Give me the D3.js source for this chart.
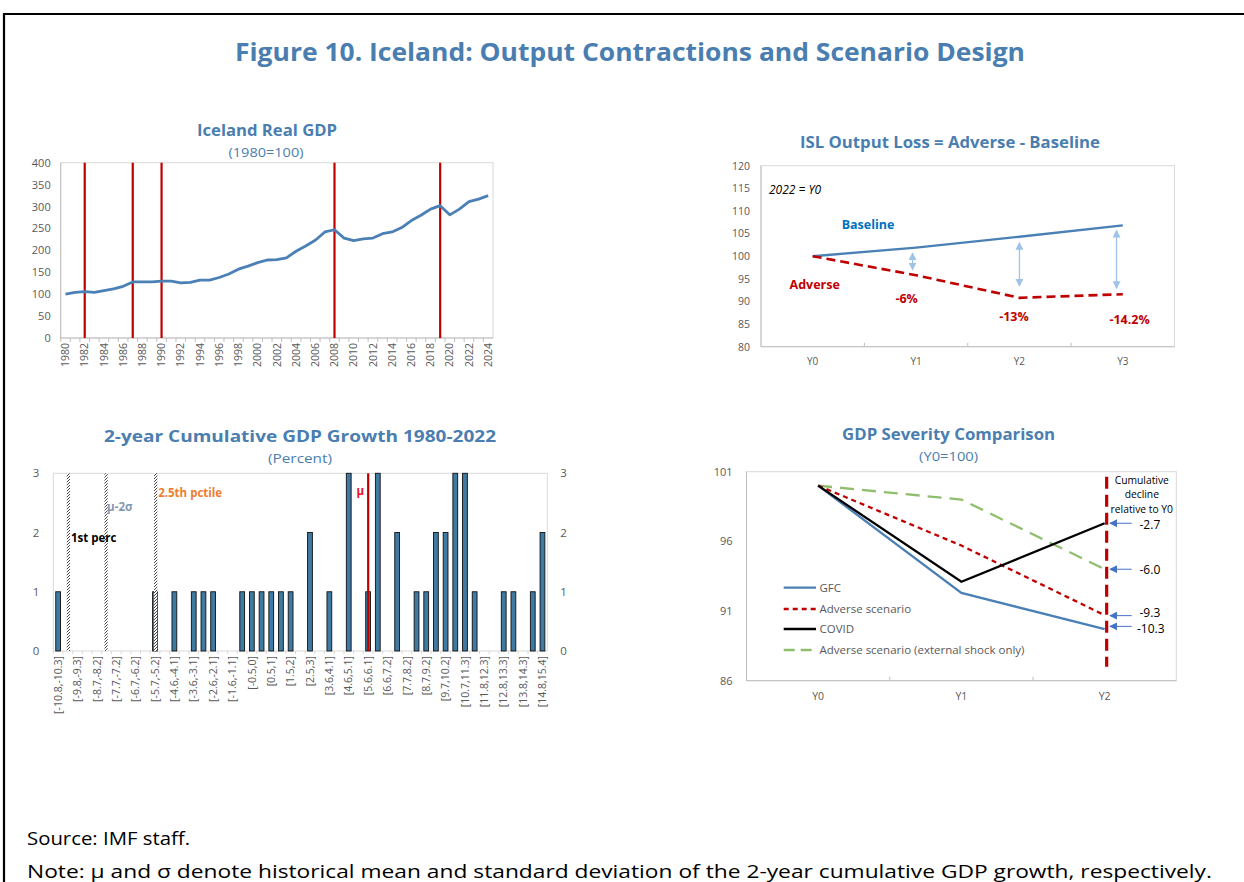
<!DOCTYPE html>
<html><head><meta charset="utf-8">
<script src="https://cdn.jsdelivr.net/npm/d3@7"></script>
<style>
body{margin:0;background:#fff;}
svg text{font-family:"Open Sans","Noto Sans",sans-serif;}
</style>
</head><body>
<svg id="c" width="1244" height="882"></svg>
<script>
// ---------------- DATA ----------------
const gdpYears = [1980,1981,1982,1983,1984,1985,1986,1987,1988,1989,1990,1991,1992,1993,1994,1995,1996,1997,1998,1999,
  2000,2001,2002,2003,2004,2005,2006,2007,2008,2009,2010,2011,2012,2013,2014,2015,2016,2017,2018,2019,2020,2021,2022,2023,2024];
const gdpIndex = [100,104,106,104,108,112,118,128,128,128,130,130,126,127,132,132,138,146,157,164,
  172,178,179,183,198,210,223,242,247,228,222,226,228,238,242,252,268,280,294,302,281,294,311,317,325];
const contractionYears = [1982,1987,1990,2008,2019];
const gdpTicks = [0,50,100,150,200,250,300,350,400];

const lossCats = ["Y0","Y1","Y2","Y3"];
const baseline = [100,101.9,104.3,106.8];
const adverse = [100,95.8,90.8,91.6];
const lossLabels = ["-6%","-13%","-14.2%"];
const gapCats = ["Y1","Y2","Y3"];
const gapTop = [100.7,103.0,105.7];
const gapBottom = [97.0,93.4,92.9];
const lossTicks = [80,85,90,95,100,105,110,115,120];

const histBins = ["[-10.8,-10.3]","[-10.3,-9.8]","[-9.8,-9.3]","[-9.3,-8.7]","[-8.7,-8.2]","[-8.2,-7.7]","[-7.7,-7.2]","[-7.2,-6.7]",
  "[-6.7,-6.2]","[-6.2,-5.7]","[-5.7,-5.2]","[-5.2,-4.6]","[-4.6,-4.1]","[-4.1,-3.6]","[-3.6,-3.1]","[-3.1,-2.6]",
  "[-2.6,-2.1]","[-2.1,-1.6]","[-1.6,-1.1]","[-1.1,-0.5]","[-0.5,0]","[0,0.5]","[0.5,1]","[1,1.5]","[1.5,2]","[2,2.5]",
  "[2.5,3]","[3,3.6]","[3.6,4.1]","[4.1,4.6]","[4.6,5.1]","[5.1,5.6]","[5.6,6.1]","[6.1,6.6]","[6.6,7.2]","[7.2,7.7]",
  "[7.7,8.2]","[8.2,8.7]","[8.7,9.2]","[9.2,9.7]","[9.7,10.2]","[10.2,10.7]","[10.7,11.3]","[11.3,11.8]","[11.8,12.3]",
  "[12.3,12.8]","[12.8,13.3]","[13.3,13.8]","[13.8,14.3]","[14.3,14.8]","[14.8,15.4]"];
const histCounts = [1,0,0,0,0,0,0,0,0,0,1,0,1,0,1,1,1,0,0,1,1,1,1,1,1,0,2,0,1,0,3,0,1,3,0,2,0,1,1,2,2,3,3,1,0,0,1,1,0,1,2];
const histRange = [-10.8,15.4];
const histTicks = [0,1,2,3];
const refNames = ["1st perc","μ-2σ","2.5th pctile","μ"];
const refValues = [-10.0,-8.0,-5.37,5.9];

const sevCats = ["Y0","Y1","Y2"];
const gfc = [100,92.3,89.7];
const advScen = [100,95.7,90.7];
const covid = [100,93.1,97.3];
const extShock = [100,99.0,94.0];
const sevNames = ["GFC","Adverse scenario","COVID","Adverse scenario (external shock only)"];
const declines = ["-2.7","-6.0","-9.3","-10.3"];
const declineLevels = [97.3,94.0,90.67,89.9];
const sevTicks = [86,91,96,101];

// ---------------- DRAWING ----------------
const svg = d3.select("#c");
const FONT = '"Open Sans","Noto Sans",sans-serif';
const TBLUE = "#4a7eb0";
const GRID = "#bfbfbf";
const TICKC = "#595959";
svg.append("rect").attr("width",1244).attr("height",882).attr("fill","#fff");
svg.append("path").attr("d","M4,882 V14 H1244").attr("fill","none").attr("stroke","#000").attr("stroke-width",2.2);

const defs = svg.append("defs");
const pat = defs.append("pattern").attr("id","hatch").attr("patternUnits","userSpaceOnUse")
  .attr("width",3).attr("height",3);
pat.append("rect").attr("width",3).attr("height",3).attr("fill","#fff");
pat.append("path").attr("d","M0,3 L3,0").attr("stroke","#333").attr("stroke-width",0.9);
function marker(id,color,size){
  defs.append("marker").attr("id",id).attr("viewBox","0 0 10 10").attr("refX",9).attr("refY",5)
    .attr("markerWidth",size).attr("markerHeight",size).attr("markerUnits","userSpaceOnUse")
    .attr("orient","auto-start-reverse")
    .append("path").attr("d","M0,0 L10,5 L0,10 z").attr("fill",color);
}
marker("arrLight","#9dc3e6",8);
marker("arrBlue","#4472c4",8);

function txt(x,y,s,o={}){
  const t = svg.append("text").attr("x",x).attr("y",y).attr("dy",".35em")
    .attr("text-anchor",o.anchor||"middle").attr("font-size",o.size||12)
    .attr("font-weight",o.weight||"normal").attr("fill",o.color||"#000")
    .attr("font-family",FONT).text(s);
  if(o.style) t.attr("font-style",o.style);
  if(o.len) t.attr("textLength",o.len).attr("lengthAdjust","spacingAndGlyphs");
  return t;
}
function styleAxis(g,size){
  g.attr("font-family",FONT).attr("font-size",size);
  g.selectAll("text").attr("fill",TICKC);
  g.select(".domain").remove();
  g.selectAll(".tick line").remove();
}

// Main title
txt(630,52,"Figure 10. Iceland: Output Contractions and Scenario Design",{size:25,weight:"bold",color:TBLUE,len:790});

// ======= Chart 1: Iceland Real GDP =======
{
  const p={l:60.7,r:493,t:162.7,b:338};
  txt(267,130,"Iceland Real GDP",{size:16,weight:"bold",color:TBLUE,len:140});
  txt(266,152,"(1980=100)",{size:13.5,color:TBLUE,len:75});
  const x=d3.scaleBand().domain(gdpYears).range([p.l,p.r]);
  const y=d3.scaleLinear().domain([0,400]).range([p.b,p.t]);
  const bw=x.bandwidth();
  svg.append("rect").attr("x",p.l).attr("y",p.t).attr("width",p.r-p.l).attr("height",p.b-p.t)
    .attr("fill","none").attr("stroke","#d9d9d9").attr("stroke-width",1);
  svg.append("line").attr("x1",p.l).attr("x2",p.l).attr("y1",p.t).attr("y2",p.b).attr("stroke",GRID);
  svg.append("line").attr("x1",p.l).attr("x2",p.r).attr("y1",p.b).attr("y2",p.b).attr("stroke",GRID);
  const ya=svg.append("g").attr("transform",`translate(${p.l},0)`)
    .call(d3.axisLeft(y).tickValues(gdpTicks).tickSize(0).tickPadding(10));
  styleAxis(ya,11);
  const xa=svg.append("g").attr("transform",`translate(0,${p.b})`)
    .call(d3.axisBottom(x).tickValues(gdpYears.filter((d,i)=>i%2===0)).tickSize(0));
  styleAxis(xa,10.5);
  xa.selectAll(".tick").attr("transform",d=>`translate(${x(d)+bw/2},0)`);
  xa.selectAll("text").attr("transform","rotate(-90)").attr("text-anchor","end")
    .attr("x",-5).attr("y",0).attr("dy",".35em");
  svg.append("g").selectAll("line").data(gdpYears).join("line")
    .attr("x1",d=>x(d)).attr("x2",d=>x(d)).attr("y1",p.b).attr("y2",p.b+4).attr("stroke",GRID);
  svg.append("g").selectAll("line").data(contractionYears).join("line")
    .attr("x1",d=>x(d)+bw/2).attr("x2",d=>x(d)+bw/2).attr("y1",p.t).attr("y2",p.b)
    .attr("stroke","#c00000").attr("stroke-width",2.2);
  const line=d3.line().x((d,i)=>x(gdpYears[i])+bw/2).y(d=>y(d));
  svg.append("path").datum(gdpIndex).attr("d",line).attr("fill","none")
    .attr("stroke","#4a80b5").attr("stroke-width",2.8).attr("stroke-linejoin","round");
}

// ======= Chart 2: ISL Output Loss =======
{
  const p={l:761,r:1174.5,t:165.7,b:346.7};
  txt(950,142,"ISL Output Loss = Adverse - Baseline",{size:16,weight:"bold",color:TBLUE,len:300});
  const x=d3.scaleBand().domain(lossCats).range([p.l,p.r]);
  const y=d3.scaleLinear().domain([80,120]).range([p.b,p.t]);
  const bw=x.bandwidth();
  svg.append("rect").attr("x",p.l).attr("y",p.t).attr("width",p.r-p.l).attr("height",p.b-p.t)
    .attr("fill","none").attr("stroke","#d9d9d9");
  svg.append("line").attr("x1",p.l).attr("x2",p.l).attr("y1",p.t).attr("y2",p.b).attr("stroke",GRID);
  svg.append("line").attr("x1",p.l).attr("x2",p.r).attr("y1",p.b).attr("y2",p.b).attr("stroke",GRID);
  const ya=svg.append("g").attr("transform",`translate(${p.l},0)`)
    .call(d3.axisLeft(y).tickValues(lossTicks).tickSize(0).tickPadding(11));
  styleAxis(ya,10.5);
  const xa=svg.append("g").attr("transform",`translate(0,${p.b})`)
    .call(d3.axisBottom(x).tickSize(0).tickPadding(11));
  styleAxis(xa,10);
  svg.append("g").selectAll("line").data(lossCats.slice(1)).join("line")
    .attr("x1",d=>x(d)).attr("x2",d=>x(d)).attr("y1",p.b).attr("y2",p.b-4).attr("stroke",GRID);
  const line=d3.line().x((d,i)=>x(lossCats[i])+bw/2).y(d=>y(d));
  svg.append("path").datum(baseline).attr("d",line).attr("fill","none")
    .attr("stroke","#4a80b5").attr("stroke-width",2.4);
  svg.append("path").datum(adverse).attr("d",line).attr("fill","none")
    .attr("stroke","#c00000").attr("stroke-width",2.6).attr("stroke-dasharray","9,5");
  const gapDx=[-3.5,0,-6.3];
  gapCats.forEach((c,i)=>{
    const cx=x(c)+bw/2+gapDx[i];
    svg.append("line").attr("x1",cx).attr("x2",cx).attr("y1",y(gapTop[i])).attr("y2",y(gapBottom[i]))
      .attr("stroke","#9dc3e6").attr("stroke-width",1.3)
      .attr("marker-start","url(#arrLight)").attr("marker-end","url(#arrLight)");
  });
  const labDx=[-9.4,-5.5,6.8], labDy=[23,19,25];
  lossLabels.forEach((s,i)=>{
    const c=lossCats[i+1];
    txt(x(c)+bw/2+labDx[i],y(adverse[i+1])+labDy[i],s,{size:12.5,weight:"bold",color:"#c00000"});
  });
  txt(x("Y1")+3.7,y(baseline[1])-23,"Baseline",{size:12.5,weight:"bold",color:"#0070c0"});
  txt(x("Y0")+bw/2+2,y(adverse[0])+28.5,"Adverse",{size:12.5,weight:"bold",color:"#c00000"});
  txt(769,190,"2022 = Y0",{size:12,style:"italic",anchor:"start"});
}

// ======= Chart 3: Histogram =======
{
  const p={l:53.3,r:547.3,t:473.3,b:651};
  txt(300,436,"2-year Cumulative GDP Growth 1980-2022",{size:16,weight:"bold",color:TBLUE,len:392});
  txt(300,458,"(Percent)",{size:13.5,color:TBLUE,len:64});
  const x=d3.scaleBand().domain(histBins).range([p.l,p.r]);
  const xg=d3.scaleLinear().domain(histRange).range([p.l,p.r]);
  const y=d3.scaleLinear().domain([0,3]).range([p.b,p.t]);
  const bw=x.bandwidth();
  svg.append("line").attr("x1",p.l).attr("x2",p.r).attr("y1",p.t).attr("y2",p.t).attr("stroke","#d9d9d9");
  svg.append("line").attr("x1",p.r).attr("x2",p.r).attr("y1",p.t).attr("y2",p.b).attr("stroke","#d9d9d9");
  svg.append("line").attr("x1",p.l).attr("x2",p.l).attr("y1",p.t).attr("y2",p.b).attr("stroke","#d9d9d9");
  svg.append("line").attr("x1",p.l).attr("x2",p.r).attr("y1",p.b).attr("y2",p.b).attr("stroke","#d9d9d9");
  const fmt=d3.format("d");
  const ya=svg.append("g").attr("transform",`translate(${p.l},0)`)
    .call(d3.axisLeft(y).tickValues(histTicks).tickFormat(fmt).tickSize(0).tickPadding(14));
  styleAxis(ya,11.5);
  const yr=svg.append("g").attr("transform",`translate(${p.r},0)`)
    .call(d3.axisRight(y).tickValues(histTicks).tickFormat(fmt).tickSize(0).tickPadding(13));
  styleAxis(yr,11.5);
  const xa=svg.append("g").attr("transform",`translate(0,${p.b})`)
    .call(d3.axisBottom(x).tickValues(histBins.filter((d,i)=>i%2===0)).tickSize(0));
  styleAxis(xa,10.5);
  xa.selectAll("text").attr("transform","rotate(-90)").attr("text-anchor","end")
    .attr("x",-5).attr("y",0).attr("dy",".35em");
  svg.append("g").selectAll("line").data(histBins).join("line")
    .attr("x1",d=>x(d)).attr("x2",d=>x(d)).attr("y1",p.b).attr("y2",p.b+3).attr("stroke","#d9d9d9");
  const BW=4.8;
  svg.append("g").selectAll("rect").data(histCounts.map((v,i)=>({c:histBins[i],v})).filter(d=>d.v>0)).join("rect")
    .attr("x",d=>x(d.c)+bw/2-BW/2).attr("width",BW).attr("y",d=>y(d.v)).attr("height",d=>p.b-y(d.v))
    .attr("fill","#3f7aa3").attr("stroke","#111").attr("stroke-width",0.9);
  refValues.forEach((v,i)=>{
    if(refNames[i]==="μ"){
      svg.append("line").attr("x1",xg(v)).attr("x2",xg(v)).attr("y1",p.t).attr("y2",p.b)
        .attr("stroke","#c00000").attr("stroke-width",2.2);
    } else {
      svg.append("rect").attr("x",xg(v)-1.6).attr("width",3.2).attr("y",p.t).attr("height",p.b-p.t)
        .attr("fill","url(#hatch)");
    }
  });
  txt(xg(refValues[0])+2.5,538,refNames[0],{size:11.5,weight:"bold",anchor:"start"});
  txt(xg(refValues[1])+1,507,refNames[1],{size:11.5,weight:"bold",color:"#8497b0",anchor:"start"});
  txt(xg(refValues[2])+2.5,493,refNames[2],{size:11.5,weight:"bold",color:"#ed7d31",anchor:"start"});
  txt(xg(refValues[3])-8,491,refNames[3],{size:11.5,weight:"bold",color:"#e8141a"});
}

// ======= Chart 4: GDP Severity Comparison =======
{
  const p={l:746.5,r:1176.3,t:471.7,b:680.7};
  txt(948.6,434,"GDP Severity Comparison",{size:16,weight:"bold",color:TBLUE,len:213});
  txt(948.6,456,"(Y0=100)",{size:13.5,color:TBLUE,len:59});
  const x=d3.scaleBand().domain(sevCats).range([p.l,p.r]);
  const y=d3.scaleLinear().domain([86,101]).range([p.b,p.t]);
  const bw=x.bandwidth();
  svg.append("rect").attr("x",p.l).attr("y",p.t).attr("width",p.r-p.l).attr("height",p.b-p.t)
    .attr("fill","none").attr("stroke","#d9d9d9");
  svg.append("line").attr("x1",p.l).attr("x2",p.l).attr("y1",p.t).attr("y2",p.b).attr("stroke",GRID);
  svg.append("line").attr("x1",p.l).attr("x2",p.r).attr("y1",p.b).attr("y2",p.b).attr("stroke",GRID);
  const ya=svg.append("g").attr("transform",`translate(${p.l},0)`)
    .call(d3.axisLeft(y).tickValues(sevTicks).tickSize(0).tickPadding(14));
  styleAxis(ya,11);
  const xa=svg.append("g").attr("transform",`translate(0,${p.b})`)
    .call(d3.axisBottom(x).tickSize(0).tickPadding(12));
  styleAxis(xa,10.5);
  svg.append("g").selectAll("line").data(sevCats.slice(1)).join("line")
    .attr("x1",d=>x(d)).attr("x2",d=>x(d)).attr("y1",p.b).attr("y2",p.b-4).attr("stroke",GRID);
  const line=d3.line().x((d,i)=>x(sevCats[i])+bw/2).y(d=>y(d));
  const series=[
    {v:gfc,c:"#4a80b5",d:null},
    {v:advScen,c:"#c00000",d:"5,4"},
    {v:covid,c:"#000",d:null},
    {v:extShock,c:"#8fbf6e",d:"14,8"}];
  [series[3],series[1],series[0],series[2]].forEach(s=>{
    const pth=svg.append("path").datum(s.v).attr("d",line).attr("fill","none")
      .attr("stroke",s.c).attr("stroke-width",2.3);
    if(s.d) pth.attr("stroke-dasharray",s.d);
  });
  // red vertical dashed
  const vx=x("Y2")+bw/2+2;
  svg.append("line").attr("x1",vx).attr("x2",vx).attr("y1",476.7).attr("y2",666.7)
    .attr("stroke","#c00000").attr("stroke-width",3.2).attr("stroke-dasharray","12,6");
  // legend
  const ly=[587.7,609,629,650];
  series.forEach((s,i)=>{
    const l=svg.append("line").attr("x1",783.7).attr("x2",816).attr("y1",ly[i]).attr("y2",ly[i])
      .attr("stroke",s.c).attr("stroke-width",2.3);
    if(s.d) l.attr("stroke-dasharray",s.d==="14,8"?"11,6":s.d);
    txt(819.5,ly[i],sevNames[i],{size:11.5,color:TICKC,anchor:"start"});
  });
  // annotation
  txt(1141.8,480,"Cumulative",{size:10.3});
  txt(1141.8,494.5,"decline",{size:10.3});
  txt(1141.8,509,"relative to Y0",{size:10.3});
  const labDy=[1.5,0.5,-2.8,2.3];
  declines.forEach((s,i)=>{
    const yy=y(declineLevels[i]);
    svg.append("line").attr("x1",1131.7).attr("x2",1110).attr("y1",yy).attr("y2",yy)
      .attr("stroke","#4472c4").attr("stroke-width",1).attr("marker-end","url(#arrBlue)");
    txt(s==="-10.3"?1137:1139.5,yy+labDy[i],s,{size:12,anchor:"start"});
  });
}

// Footnotes
svg.append("text").attr("x",27).attr("y",845).attr("font-size",18).attr("font-family",FONT)
  .attr("textLength",163).attr("lengthAdjust","spacingAndGlyphs").text("Source: IMF staff.");
svg.append("text").attr("x",27).attr("y",878).attr("font-size",18).attr("font-family",FONT)
  .attr("textLength",1185).attr("lengthAdjust","spacingAndGlyphs")
  .text("Note: μ and σ denote historical mean and standard deviation of the 2-year cumulative GDP growth, respectively.");
</script>
</body></html>
